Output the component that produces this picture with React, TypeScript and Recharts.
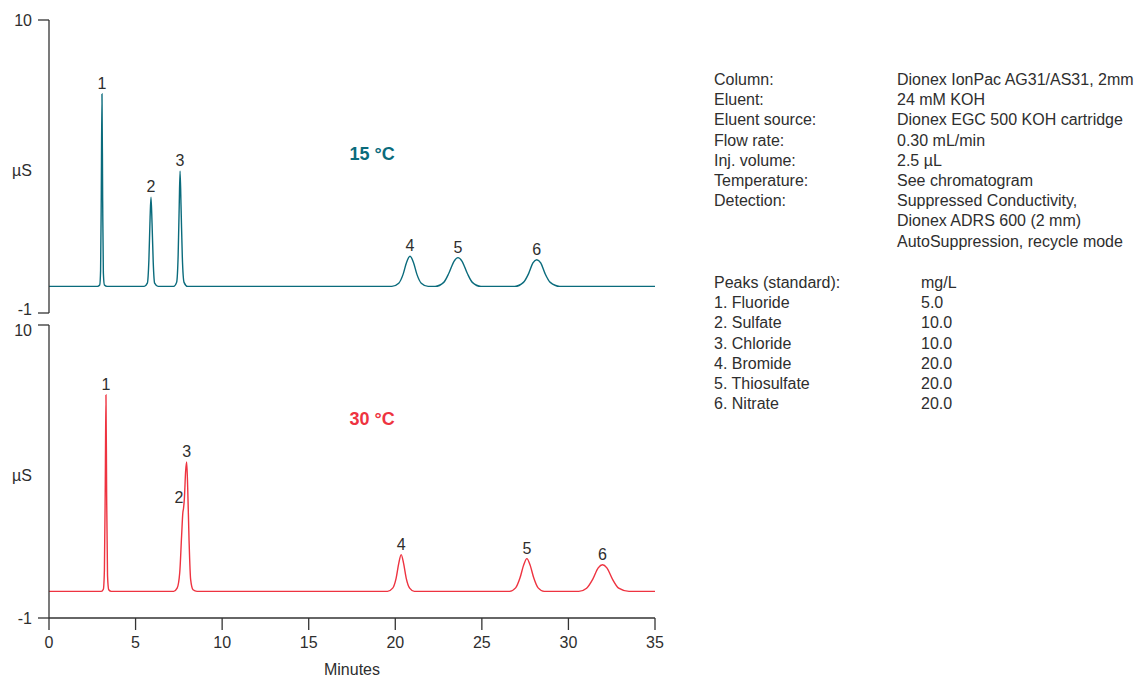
import React from 'react';
import { LineChart, Line, XAxis, YAxis, ReferenceDot } from 'recharts';

const TEAL = '#0a6b7c';
const RED = '#ee3340';
const INK = '#2e2e2e';
const FONT = '"Liberation Sans", Arial, Helvetica, sans-serif';

// 15 °C trace: [minutes, µS]
const trace15: [number, number][] = [
  [0, 0], [2.8, 0], [2.93, 0.05], [2.98, 0.6], [3.02, 3.5], [3.06, 7.22], [3.1, 3.2], [3.14, 0.5], [3.2, 0.05], [3.35, 0],
  [5.5, 0], [5.68, 0.12], [5.77, 1.0], [5.84, 2.6], [5.89, 3.35], [5.95, 2.4], [6.02, 0.9], [6.1, 0.12], [6.3, 0],
  [7.2, 0], [7.37, 0.15], [7.46, 1.2], [7.52, 3.0], [7.57, 4.32], [7.63, 2.9], [7.7, 1.1], [7.8, 0.15], [8.0, 0],
  [19.8, 0], [20.2, 0.12], [20.45, 0.45], [20.65, 0.9], [20.85, 1.13], [21.05, 0.9], [21.25, 0.45], [21.5, 0.12], [21.9, 0],
  [22.3, 0], [22.8, 0.15], [23.1, 0.5], [23.4, 0.95], [23.62, 1.08], [23.85, 0.95], [24.15, 0.5], [24.45, 0.15], [24.95, 0],
  [26.9, 0], [27.4, 0.15], [27.7, 0.48], [27.95, 0.88], [28.17, 1.0], [28.4, 0.88], [28.65, 0.48], [28.95, 0.15], [29.5, 0],
  [35, 0],
];

// 30 °C trace: [minutes, µS]
const trace30: [number, number][] = [
  [0, 0], [3.02, 0], [3.14, 0.08], [3.2, 0.8], [3.25, 4.0], [3.29, 7.37], [3.33, 3.6], [3.38, 0.6], [3.45, 0.06], [3.6, 0],
  [7.2, 0], [7.4, 0.12], [7.55, 0.7], [7.66, 2.1], [7.73, 2.95], [7.77, 3.12], [7.82, 3.5], [7.89, 4.5], [7.95, 4.86],
  [8.01, 3.9], [8.09, 1.9], [8.18, 0.45], [8.32, 0.06], [8.55, 0],
  [19.55, 0], [19.85, 0.12], [20.05, 0.5], [20.2, 1.05], [20.34, 1.38], [20.48, 1.05], [20.63, 0.5], [20.83, 0.12], [21.1, 0],
  [26.6, 0], [26.95, 0.13], [27.2, 0.5], [27.42, 1.0], [27.6, 1.23], [27.78, 1.0], [28.0, 0.5], [28.25, 0.13], [28.6, 0],
  [30.6, 0], [31.05, 0.12], [31.4, 0.45], [31.72, 0.88], [31.97, 1.0], [32.22, 0.88], [32.55, 0.45], [32.9, 0.12], [33.5, 0],
  [35, 0],
];

// Peak labels: [label, minutes, µS]
const peaks15: [string, number, number][] = [
  ['1', 3.06, 7.22], ['2', 5.89, 3.35], ['3', 7.57, 4.32],
  ['4', 20.85, 1.13], ['5', 23.62, 1.08], ['6', 28.17, 1.0],
];
const peaks30: [string, number, number][] = [
  ['1', 3.29, 7.37], ['2', 7.5, 3.12], ['3', 7.95, 4.86],
  ['4', 20.34, 1.38], ['5', 27.6, 1.23], ['6', 31.97, 1.0],
];

const xTicks = [0, 5, 10, 15, 20, 25, 30, 35];
const yTicks = [-1, 10];
const yDomain: [number, number] = [-1, 10];
const xDomain: [number, number] = [0, 35];

const conditions: [string, string][] = [
  ['Column:', 'Dionex IonPac AG31/AS31, 2mm'],
  ['Eluent:', '24 mM KOH'],
  ['Eluent source:', 'Dionex EGC 500 KOH cartridge'],
  ['Flow rate:', '0.30 mL/min'],
  ['Inj. volume:', '2.5 µL'],
  ['Temperature:', 'See chromatogram'],
  ['Detection:', 'Suppressed Conductivity,'],
  ['', 'Dionex ADRS 600 (2 mm)'],
  ['', 'AutoSuppression, recycle mode'],
];
const peakHeader: [string, string] = ['Peaks (standard):', 'mg/L'];
const peakTable: [string, string][] = [
  ['1. Fluoride', '5.0'],
  ['2. Sulfate', '10.0'],
  ['3. Chloride', '10.0'],
  ['4. Bromide', '20.0'],
  ['5. Thiosulfate', '20.0'],
  ['6. Nitrate', '20.0'],
];

const toRows = (arr: [number, number][]) => arr.map(([t, v]) => ({ t, v }));

const axisLine = { stroke: '#333', strokeWidth: 1.3 };
const tickStyle = { fill: INK, fontSize: 16, fontFamily: FONT };

const makeYTick = (shifts: Record<string, number>) => (p: any) => (
  <text
    x={p.x}
    y={p.y + (shifts[String(p.payload.value)] || 0)}
    dy="0.355em"
    textAnchor="end"
    fill={INK}
    fontSize={16}
    fontFamily={FONT}
  >
    {p.payload.value}
  </text>
);

function Panel(props: {
  data: [number, number][];
  peaks: [string, number, number][];
  color: string;
  tempLabel: string;
  tempPos: [number, number];
  showX: boolean;
  tickShift: Record<string, number>;
}) {
  const { data, peaks, color, tempLabel, tempPos, showX, tickShift } = props;
  return (
    <LineChart
      width={680}
      height={showX ? 372 : 322}
      data={toRows(data)}
      margin={{ top: 20, right: 25, bottom: showX ? 0 : 9, left: 0 }}
    >
      <XAxis
        type="number"
        dataKey="t"
        domain={xDomain}
        ticks={xTicks}
        interval={0}
        hide={!showX}
        height={59}
        tickSize={12}
        tickMargin={7}
        tick={tickStyle}
        axisLine={axisLine}
        tickLine={axisLine}
        allowDataOverflow
        label={{ value: 'Minutes', position: 'insideBottom', offset: 2, fill: INK, fontSize: 16, fontFamily: FONT }}
      />
      <YAxis
        type="number"
        domain={yDomain}
        ticks={yTicks}
        interval={0}
        width={49}
        tickSize={11}
        tickMargin={6}
        tick={makeYTick(tickShift)}
        axisLine={axisLine}
        tickLine={axisLine}
        allowDataOverflow
        label={{ value: 'µS', position: 'insideLeft', offset: 12, dy: 4, fill: INK, fontSize: 16, fontFamily: FONT }}
      />
      <Line
        type="monotone"
        dataKey="v"
        stroke={color}
        strokeWidth={1.4}
        dot={false}
        activeDot={false}
        isAnimationActive={false}
      />
      {peaks.map(([lab, t, v]) => (
        <ReferenceDot
          key={lab}
          x={t}
          y={v}
          r={0}
          stroke="none"
          fill="none"
          label={{ value: lab, position: 'top', offset: 5, fill: INK, fontSize: 16, fontFamily: FONT }}
        />
      ))}
      <ReferenceDot
        x={tempPos[0]}
        y={tempPos[1]}
        r={0}
        stroke="none"
        fill="none"
        label={{ value: tempLabel, position: 'center', fill: color, fontSize: 18, fontWeight: 700, fontFamily: FONT }}
      />
    </LineChart>
  );
}

export default function App() {
  const rowStyle: React.CSSProperties = { display: 'flex', height: 20.2, lineHeight: '20.2px', whiteSpace: 'nowrap' };
  return (
    <div
      style={{
        position: 'absolute',
        left: 0,
        top: 0,
        width: 1143,
        height: 677,
        background: '#fff',
        fontFamily: FONT,
        color: INK,
        overflow: 'hidden',
      }}
    >
      <div style={{ position: 'absolute', left: 0, top: 0, zIndex: 2 }}>
        <Panel data={trace15} peaks={peaks15} color={TEAL} tempLabel="15 °C" tempPos={[18.66, 5.0]} showX={false} tickShift={{ '-1': -4 }} />
      </div>
      <div style={{ position: 'absolute', left: 0, top: 305, zIndex: 1 }}>
        <Panel data={trace30} peaks={peaks30} color={RED} tempLabel="30 °C" tempPos={[18.66, 6.5]} showX={true} tickShift={{ '10': 5 }} />
      </div>
      <div style={{ position: 'absolute', left: 714, top: 70, fontSize: 16 }}>
        {conditions.map(([k, v], i) => (
          <div key={i} style={rowStyle}>
            <span style={{ width: 183, display: 'inline-block' }}>{k}</span>
            <span>{v}</span>
          </div>
        ))}
      </div>
      <div style={{ position: 'absolute', left: 714, top: 273, fontSize: 16 }}>
        <div style={rowStyle}>
          <span style={{ width: 207, display: 'inline-block' }}>{peakHeader[0]}</span>
          <span>{peakHeader[1]}</span>
        </div>
        {peakTable.map(([k, v], i) => (
          <div key={i} style={rowStyle}>
            <span style={{ width: 207, display: 'inline-block' }}>{k}</span>
            <span>{v}</span>
          </div>
        ))}
      </div>
    </div>
  );
}
